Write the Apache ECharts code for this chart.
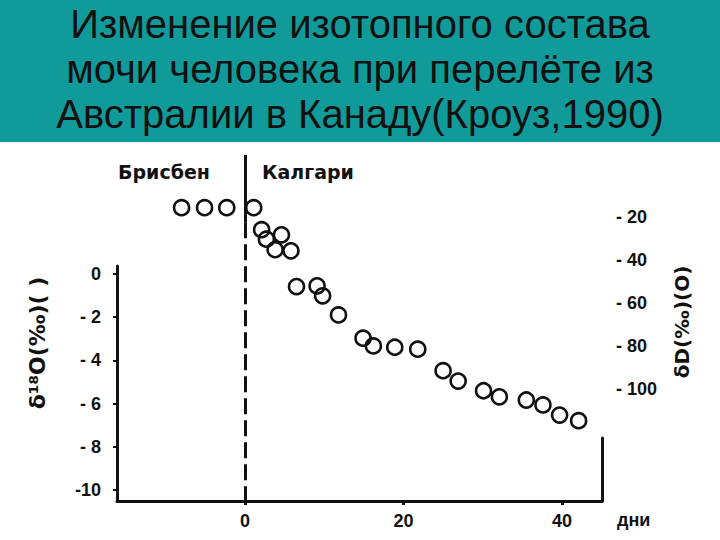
<!DOCTYPE html>
<html>
<head>
<meta charset="utf-8">
<script src="https://cdn.jsdelivr.net/npm/echarts@6/dist/echarts.min.js"></script>
<style>html,body{margin:0;padding:0;background:#fff}#c{width:720px;height:540px}</style>
</head>
<body>
<div id="c"></div>
<script>
// ---- data ----
const titleLines = ['Изменение изотопного состава', 'мочи человека при перелёте из', 'Австралии в Канаду(Кроуз,1990)'];
const cityLabels = ['Брисбен', 'Калгари'];
const days = [-8, -5.1, -2.3, 1.1, 2.1, 2.7, 4.6, 3.8, 5.8, 6.5, 9.1, 9.8, 11.8, 14.9, 16.2, 18.9, 21.8, 25.0, 26.9, 30.1, 32.1, 35.5, 37.6, 39.7, 42.1];
const deltaD = [-15.8, -15.8, -15.8, -15.8, -26.0, -30.4, -28.4, -35.3, -35.8, -52.4, -52.1, -56.7, -65.6, -76.4, -80.0, -80.6, -81.5, -91.5, -96.3, -100.8, -103.6, -105.1, -107.4, -112.1, -114.7];
const xTickValues = [0, 20, 40];
const xTickLabels = ['0', '20', '40'];
const leftTickValues = [0, -2, -4, -6, -8, -10];
const leftTickLabels = ['0', '- 2', '- 4', '- 6', '- 8', '-10'];
const rightTickValues = [-20, -40, -60, -80, -100];
const rightTickLabels = ['- 20', '- 40', '- 60', '- 80', '- 100'];
const xName = 'дни';
const leftTitle = 'δ¹⁸O(‰)( )';
const rightTitle = 'δD(‰)(O)';

// ---- chart ----
const INK = '#111';
const TEAL = '#119a9a';
const tickFont = { color: INK, fontSize: 18, fontWeight: 'bold', fontFamily: 'Liberation Sans' };
const lookup = (vals, labs) => v => { const i = vals.findIndex(t => Math.abs(t - v) < 1e-6); return i >= 0 ? labs[i] : ''; };
const X_MIN = -16.15, X_MAX = 45.05;

const chart = echarts.init(document.getElementById('c'), null, { renderer: 'svg' });
chart.setOption({
  animation: false,
  backgroundColor: '#fff',
  grid: [
    { left: 117, right: 118, top: 150, bottom: 39 },
    { left: 117, right: 118, top: 266, bottom: 39 },
    { left: 117, right: 118, top: 438, bottom: 39 }
  ],
  xAxis: [
    {
      gridIndex: 0, type: 'value', min: X_MIN, max: X_MAX,
      axisLine: { show: true, onZero: false, lineStyle: { color: INK, width: 3 } },
      axisTick: { show: true, customValues: xTickValues, length: 4, lineStyle: { color: INK, width: 3 } },
      axisLabel: { customValues: xTickValues, formatter: lookup(xTickValues, xTickLabels), margin: 11, ...tickFont },
      splitLine: { show: false },
      name: xName, nameLocation: 'end', nameGap: 15,
      nameTextStyle: { ...tickFont, verticalAlign: 'top', padding: [10, 0, 0, 0] }
    },
    { gridIndex: 1, type: 'value', min: X_MIN, max: X_MAX, show: false },
    { gridIndex: 2, type: 'value', min: X_MIN, max: X_MAX, show: false }
  ],
  yAxis: [
    {
      gridIndex: 0, type: 'value', position: 'right', min: -152, max: 11,
      axisLine: { show: false, onZero: false },
      axisTick: { show: false },
      axisLabel: { customValues: rightTickValues, formatter: lookup(rightTickValues, rightTickLabels), margin: 14, align: 'left', ...tickFont },
      splitLine: { show: false }
    },
    {
      gridIndex: 1, type: 'value', position: 'left', min: -10.51, max: 0.37,
      axisLine: { show: true, onZero: false, lineStyle: { color: INK, width: 3 } },
      axisTick: { show: true, customValues: leftTickValues, length: 4, lineStyle: { color: INK, width: 2 } },
      axisLabel: { customValues: leftTickValues, formatter: lookup(leftTickValues, leftTickLabels), margin: 16, ...tickFont },
      splitLine: { show: false }
    },
    {
      gridIndex: 2, type: 'value', position: 'right', min: 0, max: 1,
      axisLine: { show: true, onZero: false, lineStyle: { color: INK, width: 3 } },
      axisTick: { show: false }, axisLabel: { show: false }, splitLine: { show: false }
    }
  ],
  series: [
    {
      type: 'scatter', xAxisIndex: 0, yAxisIndex: 0, clip: false,
      symbol: 'circle', symbolSize: 15,
      itemStyle: { color: 'rgba(0,0,0,0)', borderColor: INK, borderWidth: 2.6, opacity: 1 },
      data: days.map((d, i) => [d, deltaD[i]]),
      markLine: {
        silent: true, symbol: 'none', label: { show: false },
        data: [
          [{ coord: [0, 8.7], lineStyle: { color: INK, width: 3, type: 'solid' } }, { coord: [0, -22.5] }],
          [{ coord: [0, -22.5], lineStyle: { color: INK, width: 3, type: [16, 6] } }, { coord: [0, -152] }]
        ]
      }
    }
  ],
  graphic: [
    { type: 'rect', left: 0, top: 0, z: -10, shape: { width: 720, height: 142 }, style: { fill: TEAL } },
    { type: 'text', left: 'center', top: 1, z: 10,
      style: { text: titleLines.join('\n'), textAlign: 'center', fill: INK, font: '40px "Liberation Sans"', lineHeight: 45 } },
    { type: 'text', left: 118, top: 162, style: { text: cityLabels[0], fill: INK, font: 'bold 19px "DejaVu Sans"' } },
    { type: 'text', left: 262, top: 162, style: { text: cityLabels[1], fill: INK, font: 'bold 19px "DejaVu Sans"' } },
    { type: 'text', x: 37, y: 343, rotation: Math.PI / 2,
      style: { text: leftTitle, fill: INK, font: 'bold 22px "DejaVu Sans"', textAlign: 'center', textVerticalAlign: 'middle' } },
    { type: 'text', x: 682, y: 322, rotation: Math.PI / 2,
      style: { text: rightTitle, fill: INK, font: 'bold 20px "DejaVu Sans"', textAlign: 'center', textVerticalAlign: 'middle' } }
  ]
});
</script>
</body>
</html>
